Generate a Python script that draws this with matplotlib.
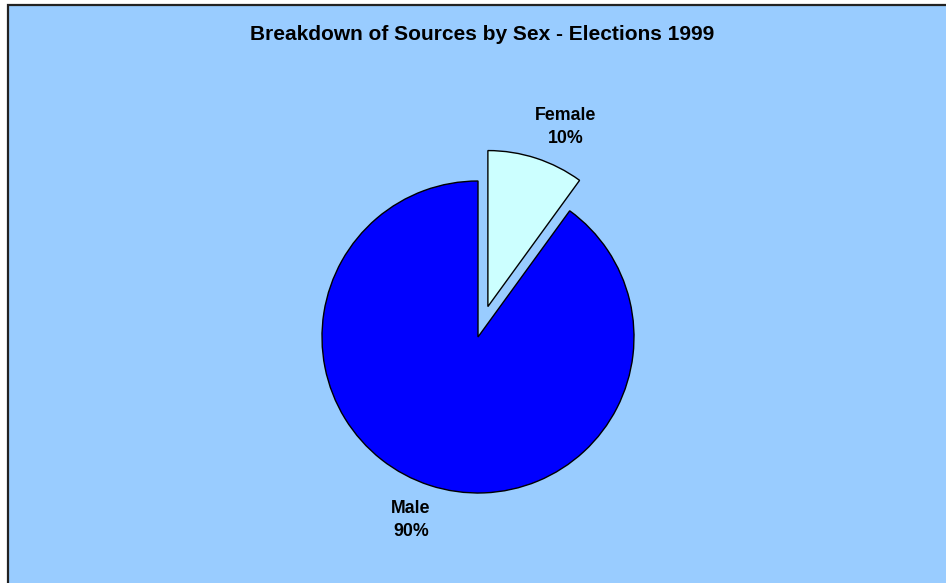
import matplotlib.pyplot as plt
from matplotlib.patches import Rectangle

# Sources by sex, elections 1999 (percent)
labels = ['Female', 'Male']
shares = [10, 90]
colors = ['#CCFFFF', '#0000FF']

W, H = 946, 583
fig = plt.figure(figsize=(W / 100, H / 100), dpi=100)
fig.patch.set_facecolor('white')

# chart area frame, open to the right and bottom edges
fig.patches.append(Rectangle((7.5 / W, -0.01), 1.0, (H - 4.5) / H + 0.01,
                             transform=fig.transFigure, facecolor='#99CCFF',
                             edgecolor='#222222', linewidth=1.6, zorder=-5))

# axes in pixel units (y up) so the pie can sit where it should
ax = fig.add_axes([0, 0, 1, 1], zorder=2)
ax.patch.set_alpha(0)

# explode is in data units here, i.e. pixels
wedges, _ = ax.pie(shares, colors=colors, startangle=90, counterclock=False,
                   explode=[32, 0], radius=156, center=(478, H - 337),
                   frame=True,
                   wedgeprops=dict(edgecolor='black', linewidth=1.0))
ax.set_xlim(0, W)
ax.set_ylim(0, H)
ax.set_aspect('equal')
ax.axis('off')

font = dict(family=['Liberation Sans', 'DejaVu Sans'], weight='bold')
label_pos = [(566, H - 127), (411, H - 520)]
for name, share, (x, y) in zip(labels, shares, label_pos):
    ax.text(x, y, f'{name}\n{share}%', ha='center', va='center',
            fontsize=12.8, linespacing=1.45, **font)

fig.text(482 / W, 1 - 34 / H, 'Breakdown of Sources by Sex - Elections 1999',
         ha='center', va='center', fontsize=15, **font)

fig.savefig('out.png', dpi=100, facecolor=fig.get_facecolor())
